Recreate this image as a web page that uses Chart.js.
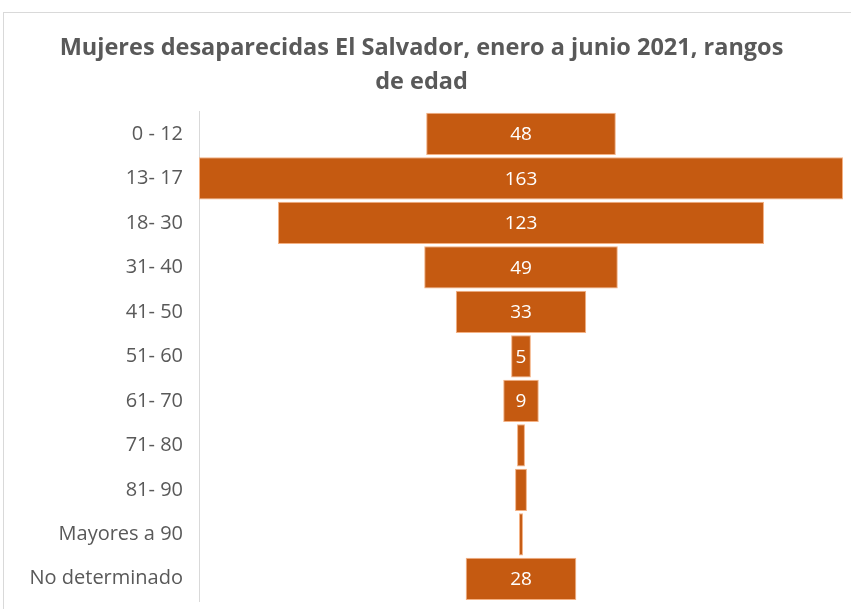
<!DOCTYPE html>
<html>
<head>
<meta charset="utf-8">
<script src="https://cdn.jsdelivr.net/npm/chart.js@4"></script>
<style>
  body { margin: 0; background: #fff; overflow: hidden; }
  canvas { display: block; }
</style>
</head>
<body>
<canvas id="chart" width="851" height="609"></canvas>
<script>
const ageRanges = ['0 - 12', '13- 17', '18- 30', '31- 40', '41- 50', '51- 60', '61- 70', '71- 80', '81- 90', 'Mayores a 90', 'No determinado']
const womenCount = [48, 163, 123, 49, 33, 5, 9, 2, 3, 1, 28]
const chartTitle = ['Mujeres desaparecidas El Salvador, enero a junio 2021, rangos', 'de edad']

const barColor = '#C55A11'
const textGray = '#595959'
const fontName = '"Open Sans", Lato, sans-serif'

const maxCount = Math.max(...womenCount)

// outer frame like the Excel chart border
const frame = {
  id: 'frame',
  beforeDraw(chart) {
    const ctx = chart.ctx
    ctx.save()
    ctx.strokeStyle = '#d9d9d9'
    ctx.lineWidth = 1
    ctx.strokeRect(3.5, 12.5, chart.width + 10, chart.height + 10)
    ctx.restore()
  },
}

// value labels in the middle of each bar
const valueLabels = {
  id: 'valueLabels',
  afterDatasetsDraw(chart) {
    const ctx = chart.ctx
    const meta = chart.getDatasetMeta(0)
    ctx.save()
    ctx.fillStyle = '#ffffff'
    ctx.font = '19px ' + fontName
    ctx.textAlign = 'center'
    ctx.textBaseline = 'middle'
    meta.data.forEach((bar, i) => {
      const v = womenCount[i]
      if (v < 5) return
      const p = bar.getProps(['x', 'y', 'base'], true)
      ctx.fillText(String(v), (p.x + p.base) / 2, p.y + 1)
    })
    ctx.restore()
  },
}

new Chart(document.getElementById('chart'), {
  type: 'bar',
  data: {
    labels: ageRanges,
    datasets: [
      {
        label: 'Mujeres',
        data: womenCount.map((v) => [-v / 2, v / 2]),
        backgroundColor: barColor,
        borderColor: '#F4B183',
        borderWidth: 1,
        borderSkipped: false,
        barPercentage: 0.95,
        categoryPercentage: 1,
      },
    ],
  },
  options: {
    indexAxis: 'y',
    responsive: false,
    animation: false,
    devicePixelRatio: 1,
    layout: {
      padding: { left: 0, right: 8, bottom: 8, top: 0 },
    },
    plugins: {
      legend: { display: false },
      tooltip: { enabled: false },
      title: {
        display: true,
        text: chartTitle,
        color: textGray,
        font: { family: fontName, size: 23.5, weight: 'bold', lineHeight: 1.42 },
        padding: { top: 32, bottom: 13 },
      },
    },
    scales: {
      x: {
        display: false,
        min: -maxCount / 2,
        max: maxCount / 2,
      },
      y: {
        grid: { display: false },
        border: { display: true, color: '#d9d9d9', width: 1 },
        ticks: {
          color: textGray,
          font: { family: fontName, size: 20 },
          padding: 8,
        },
        afterFit: (axis) => {
          axis.width = 199
          axis.paddingTop = 0
          axis.paddingBottom = 0
        },
      },
    },
  },
  plugins: [frame, valueLabels],
})
</script>
</body>
</html>
